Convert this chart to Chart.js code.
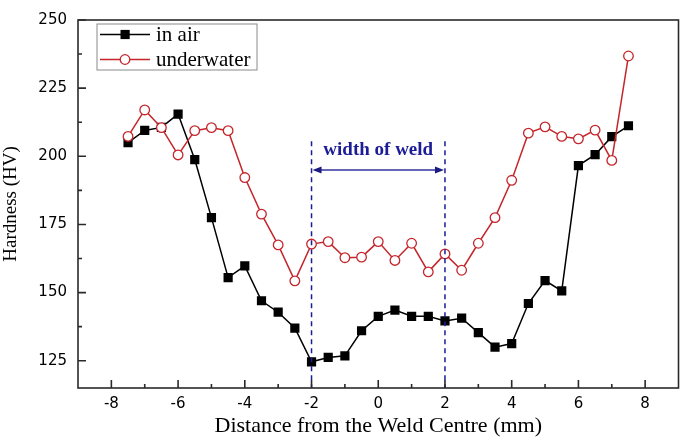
<!DOCTYPE html>
<html>
<head>
<meta charset="utf-8">
<script src="https://cdn.jsdelivr.net/npm/chart.js@4.4.1/dist/chart.umd.min.js"></script>
<style>
  body { margin: 0; background: #fff; }
  #wrap { width: 685px; height: 439px; position: relative; }
</style>
</head>
<body>
<div id="wrap"><canvas id="hardChart"></canvas></div>
<script>
// distance from weld centre (mm)
const distance = [-7.5, -7, -6.5, -6, -5.5, -5, -4.5, -4, -3.5, -3, -2.5, -2, -1.5, -1, -0.5, 0,
  0.5, 1, 1.5, 2, 2.5, 3, 3.5, 4, 4.5, 5, 5.5, 6, 6.5, 7, 7.5];

const inAir = [205, 209.5, 210.6, 215.5, 198.8, 177.5, 155.5, 159.8, 147, 142.8, 137, 124.6, 126.2, 126.8, 136, 141.3,
  143.6, 141.3, 141.3, 139.6, 140.6, 135.3, 130, 131.3, 146, 154.4, 150.6, 196.6, 200.6, 207.2, 211.2];

const underwater = [207.3, 217, 210.5, 200.5, 209.4, 210.5, 209.4, 192.2, 178.8, 167.5, 154.3, 167.8, 168.7, 162.8, 163, 168.7,
  161.8, 168.1, 157.6, 164.2, 158.2, 168.1, 177.5, 191.2, 208.5, 210.8, 207.3, 206.4, 209.6, 198.5, 236.8];

const xTicks = [-8, -6, -4, -2, 0, 2, 4, 6, 8];
const yTicks = [125, 150, 175, 200, 225, 250];
const weldEdges = [-2, 2];

const RED = '#c4262b';
const NAVY = '#1c1c96';

const ctx = document.getElementById('hardChart').getContext('2d');

// frame + inward ticks
const framePlugin = {
  id: 'frame',
  afterDraw(chart) {
    const c = chart.ctx, a = chart.chartArea;
    const xs = chart.scales.x, ys = chart.scales.y;
    c.save();
    c.strokeStyle = '#2a2a2a';
    c.lineWidth = 1.6;
    c.strokeRect(a.left, a.top, a.right - a.left, a.bottom - a.top);
    c.beginPath();
    for (let v = -8; v <= 8; v += 1) {
      const px = xs.getPixelForValue(v);
      const len = v % 2 === 0 ? 8 : 4;
      c.moveTo(px, a.bottom);
      c.lineTo(px, a.bottom - len);
    }
    for (let v = 125; v <= 250; v += 12.5) {
      const py = ys.getPixelForValue(v);
      const len = (v - 125) % 25 === 0 ? 8 : 4;
      c.moveTo(a.left, py);
      c.lineTo(a.left + len, py);
    }
    c.stroke();
    c.restore();
  }
};

// "width of weld" marks
const weldPlugin = {
  id: 'weld',
  afterDatasetsDraw(chart) {
    const c = chart.ctx;
    const xs = chart.scales.x, ys = chart.scales.y;
    const x1 = xs.getPixelForValue(weldEdges[0]);
    const x2 = xs.getPixelForValue(weldEdges[1]);
    c.save();
    c.strokeStyle = NAVY;
    c.lineWidth = 1.5;
    c.setLineDash([5, 4]);
    c.beginPath();
    weldEdges.forEach(v => {
      const px = xs.getPixelForValue(v);
      c.moveTo(px, ys.getPixelForValue(205.5));
      c.lineTo(px, ys.getPixelForValue(115));
    });
    c.stroke();
    c.setLineDash([]);
    const ay = ys.getPixelForValue(195);
    c.strokeStyle = '#3333a0';
    c.fillStyle = '#1c1c80';
    c.lineWidth = 1.5;
    c.beginPath();
    c.moveTo(x1 + 6, ay);
    c.lineTo(x2 - 6, ay);
    c.stroke();
    c.beginPath();
    c.moveTo(x1 + 1, ay); c.lineTo(x1 + 10, ay - 3.5); c.lineTo(x1 + 10, ay + 3.5); c.closePath();
    c.moveTo(x2 - 1, ay); c.lineTo(x2 - 10, ay - 3.5); c.lineTo(x2 - 10, ay + 3.5); c.closePath();
    c.fill();
    c.fillStyle = NAVY;
    c.font = 'bold 19px "Liberation Serif"';
    c.textAlign = 'center';
    c.textBaseline = 'middle';
    c.fillText('width of weld', (x1 + x2) / 2, ys.getPixelForValue(202.2));
    c.restore();
  }
};

// legend box in the upper left
const legendPlugin = {
  id: 'boxLegend',
  afterDraw(chart) {
    const c = chart.ctx;
    c.save();
    c.strokeStyle = '#8a8a8a';
    c.lineWidth = 1;
    c.strokeRect(97, 24, 160, 46);
    const rows = [
      { label: 'in air', y: 34.5, color: '#000' },
      { label: 'underwater', y: 59.5, color: RED }
    ];
    rows.forEach((r, i) => {
      c.strokeStyle = r.color;
      c.lineWidth = 1.5;
      c.beginPath();
      c.moveTo(100, r.y);
      c.lineTo(150, r.y);
      c.stroke();
      if (i === 0) {
        c.fillStyle = '#000';
        c.fillRect(120.5, r.y - 4.6, 9.2, 9.2);
      } else {
        c.fillStyle = '#fff';
        c.lineWidth = 1.3;
        c.beginPath();
        c.arc(125, r.y, 4.8, 0, Math.PI * 2);
        c.fill();
        c.stroke();
      }
      c.fillStyle = '#000';
      c.font = '21px "Liberation Serif"';
      c.textAlign = 'left';
      c.textBaseline = 'middle';
      c.fillText(r.label, 156, r.y + 1);
    });
    c.restore();
  }
};

new Chart(ctx, {
  type: 'line',
  data: {
    labels: distance,
    datasets: [
      {
        label: 'underwater',
        data: distance.map((d, i) => ({ x: d, y: underwater[i] })),
        borderColor: RED,
        borderWidth: 1.5,
        backgroundColor: '#fff',
        pointStyle: 'circle',
        pointRadius: 4.8,
        pointBorderWidth: 1.3,
        pointBorderColor: RED,
        tension: 0,
        order: 1
      },
      {
        label: 'in air',
        data: distance.map((d, i) => ({ x: d, y: inAir[i] })),
        borderColor: '#000',
        borderWidth: 1.5,
        backgroundColor: '#000',
        pointStyle: 'rect',
        pointRadius: 6.5,
        pointBorderWidth: 0,
        tension: 0,
        order: 2
      }
    ]
  },
  options: {
    responsive: true,
    maintainAspectRatio: false,
    animation: false,
    layout: { padding: { left: 0, right: 4, top: 8, bottom: 0 } },
    plugins: {
      legend: { display: false },
      tooltip: { enabled: false }
    },
    scales: {
      x: {
        type: 'linear',
        min: -9,
        max: 9,
        afterBuildTicks: s => { s.ticks = xTicks.map(v => ({ value: v })); },
        afterFit: s => { s.height = 51; },
        grid: { display: false, drawTicks: false },
        border: { display: false },
        ticks: {
          padding: 7,
          color: '#000',
          font: { family: '"DejaVu Sans"', size: 15 },
          maxRotation: 0
        },
        title: {
          display: true,
          text: 'Distance from the Weld Centre (mm)',
          color: '#000',
          font: { family: '"Liberation Serif"', size: 22 },
          padding: { top: 0, bottom: 0 }
        }
      },
      y: {
        min: 115,
        max: 250,
        afterBuildTicks: s => { s.ticks = yTicks.map(v => ({ value: v })); },
        afterFit: s => { s.width = 78; },
        grid: { display: false, drawTicks: false },
        border: { display: false },
        ticks: {
          padding: 11,
          color: '#000',
          font: { family: '"DejaVu Sans"', size: 15 }
        },
        title: {
          display: true,
          text: 'Hardness (HV)',
          color: '#000',
          font: { family: '"Liberation Serif"', size: 19 },
          padding: { top: 0, bottom: 0 }
        }
      }
    }
  },
  plugins: [framePlugin, weldPlugin, legendPlugin]
});
</script>
</body>
</html>
